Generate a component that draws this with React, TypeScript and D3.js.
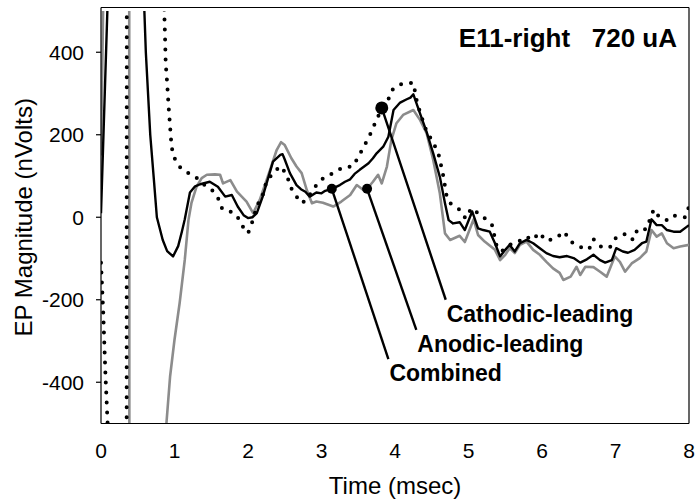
import React from "react";
import * as d3 from "d3";

const W = 696;
const H = 503;

const xTicks = [0, 1, 2, 3, 4, 5, 6, 7, 8];
const yTicks = [-400, -200, 0, 200, 400];
const xDomain: [number, number] = [0, 8];
const yDomain: [number, number] = [-500, 500];

const title = "E11-right   720 uA";
const xTitle = "Time (msec)";
const yTitle = "EP Magnitude (nVolts)";

// Combined (black solid)
const combined: [number, number][] = [
  [0, 10], [0.09, 520], [0.2, 2000], [0.5, 2000], [0.56, 700], [0.59, 500], [0.61, 400], [0.67, 200],
  [0.72, 90], [0.76, 0], [0.84, -55], [0.9, -82], [0.98, -95], [1.05, -70], [1.1, -35], [1.14, -5],
  [1.21, 60], [1.28, 75], [1.35, 80], [1.48, 86], [1.59, 74], [1.69, 50], [1.78, 54], [1.86, 26],
  [1.94, 5], [2.0, -2], [2.06, 0], [2.12, 10], [2.2, 50], [2.34, 135], [2.44, 151], [2.47, 153],
  [2.5, 140], [2.57, 107], [2.66, 78], [2.72, 68], [2.78, 62], [2.84, 50], [2.93, 60], [3.0, 58],
  [3.05, 64], [3.14, 69], [3.25, 78], [3.32, 86], [3.39, 92], [3.45, 105], [3.52, 115], [3.64, 131],
  [3.7, 143], [3.75, 155], [3.84, 171], [3.91, 195], [3.98, 260], [4.07, 278], [4.16, 286], [4.21, 290],
  [4.25, 298], [4.34, 252], [4.43, 207], [4.52, 155], [4.61, 98], [4.68, 34], [4.73, -7], [4.79, -15],
  [4.88, -12], [4.95, -31], [5.05, 14], [5.13, -27], [5.2, -31], [5.29, -35], [5.36, -63], [5.43, -95],
  [5.5, -79], [5.56, -67], [5.63, -83], [5.7, -63], [5.79, -55], [5.88, -63], [5.97, -75], [6.06, -87],
  [6.15, -94], [6.24, -97], [6.34, -94], [6.43, -99], [6.52, -110], [6.61, -102], [6.7, -91], [6.79, -104],
  [6.86, -110], [6.95, -104], [7.01, -75], [7.1, -83], [7.17, -86], [7.26, -79], [7.36, -63], [7.42, -59],
  [7.49, -5], [7.56, -19], [7.63, -19], [7.7, -31], [7.79, -35], [7.88, -35], [8.0, -19],
];

// Anodic-leading (gray solid)
const anodic: [number, number][] = [
  [0, 150], [0.03, 520], [0.08, 3000], [0.38, 3000], [0.39, -3000], [0.85, -3000], [0.89, -500],
  [0.94, -386], [1.0, -297], [1.07, -208], [1.14, -103], [1.19, -7], [1.23, 34], [1.3, 74], [1.37, 95],
  [1.44, 103], [1.55, 104], [1.62, 103], [1.66, 82], [1.76, 90], [1.85, 62], [1.98, 38], [2.07, 10],
  [2.16, 42], [2.3, 115], [2.39, 163], [2.45, 182], [2.5, 175], [2.59, 143], [2.66, 123], [2.73, 107],
  [2.8, 66], [2.87, 34], [2.93, 38], [3.02, 35], [3.16, 26], [3.27, 38], [3.39, 54], [3.48, 78],
  [3.57, 66], [3.62, 69], [3.7, 86], [3.77, 103], [3.82, 82], [3.89, 123], [3.95, 187], [4.02, 228],
  [4.11, 248], [4.25, 260], [4.34, 236], [4.43, 204], [4.52, 139], [4.61, 58], [4.68, -39], [4.75, -55],
  [4.88, -45], [4.95, -60], [5.07, -5], [5.13, -43], [5.22, -59], [5.36, -79], [5.43, -104], [5.5, -91],
  [5.56, -75], [5.63, -87], [5.7, -67], [5.79, -59], [5.88, -79], [5.97, -91], [6.06, -108], [6.15, -124],
  [6.24, -135], [6.29, -152], [6.39, -144], [6.47, -120], [6.52, -140], [6.59, -120], [6.7, -121],
  [6.79, -132], [6.88, -144], [6.99, -95], [7.06, -108], [7.13, -132], [7.22, -112], [7.33, -99],
  [7.42, -83], [7.49, -31], [7.56, -47], [7.63, -39], [7.7, -63], [7.79, -75], [7.88, -71], [8.0, -67],
];

// Cathodic-leading (black dotted)
const cathodic: [number, number][] = [
  [0, -110], [0.03, -230], [0.06, -380], [0.09, -500], [0.15, -1200], [0.345, -3000], [0.355, 3000],
  [0.8, 3000], [0.86, 502], [0.87, 446], [0.88, 374], [0.9, 325], [0.92, 268], [0.94, 220], [0.96, 171],
  [0.99, 147], [1.05, 125], [1.17, 109], [1.29, 97], [1.41, 78], [1.52, 64], [1.6, 44], [1.65, 20],
  [1.76, 14], [1.85, 3], [1.93, -23], [2.0, -39], [2.05, -16], [2.12, 26], [2.21, 58], [2.25, 86],
  [2.34, 107], [2.44, 124], [2.53, 103], [2.57, 76], [2.64, 54], [2.74, 34], [2.83, 52], [2.93, 78],
  [3.03, 96], [3.16, 107], [3.29, 121], [3.42, 123], [3.5, 145], [3.57, 170], [3.64, 192], [3.7, 216],
  [3.76, 241], [3.84, 268], [3.91, 286], [3.97, 310], [4.05, 321], [4.16, 325], [4.25, 326], [4.3, 278],
  [4.36, 244], [4.43, 208], [4.52, 181], [4.59, 155], [4.65, 107], [4.7, 54], [4.75, 34], [4.88, 18],
  [4.96, -3], [5.04, 22], [5.23, -4], [5.32, -19], [5.35, -43], [5.38, -67], [5.45, -83], [5.56, -67],
  [5.68, -59], [5.78, -47], [5.88, -55], [5.96, -37], [6.06, -57], [6.19, -51], [6.3, -35], [6.39, -59],
  [6.5, -71], [6.64, -78], [6.7, -53], [6.8, -71], [6.92, -74], [7.01, -49], [7.14, -40], [7.24, -55],
  [7.3, -29], [7.42, -29], [7.47, -5], [7.52, 19], [7.6, -1], [7.72, -8], [7.81, 4], [7.95, 0], [8.0, 26],
];

// Annotations: label, marker point, leader end
const annoLabels = ["Cathodic-leading", "Anodic-leading", "Combined"];
const annoMarkT = [3.82, 3.62, 3.14];
const annoMarkV = [265, 69, 69];
const annoEndT = [4.69, 4.29, 3.91];
const annoEndV = [-200, -273, -344];

export default function App() {
  const left = 101;
  const right = 689;
  const top = 11;
  const bottom = 423.5;

  const x = d3.scaleLinear().domain(xDomain).range([left, right]);
  const y = d3.scaleLinear().domain(yDomain).range([bottom, top]);

  const line = d3
    .line<[number, number]>()
    .x((d) => x(d[0]))
    .y((d) => y(d[1]));

  const font = "'Liberation Sans', Arial, sans-serif";
  const markR = [6.5, 5, 5];

  return (
    <svg
      width={W}
      height={H}
      style={{ position: "absolute", left: 0, top: 0, background: "#fff" }}
      fontFamily={font}
    >
      <defs>
        <clipPath id="plot">
          <rect x={left} y={top} width={right - left} height={bottom - top} />
        </clipPath>
      </defs>
      <rect x={0} y={0} width={W} height={H} fill="#fff" />

      {/* frame */}
      <line x1={left} x2={right} y1={7.5} y2={7.5} stroke="#000" strokeWidth={1.2} />
      <line x1={right} x2={right} y1={7.5} y2={bottom} stroke="#000" strokeWidth={1.2} />

      <g clipPath="url(#plot)" fill="none" strokeLinejoin="round">
        <path d={line(anodic) || ""} stroke="#8c8c8c" strokeWidth={2.6} />
        <path d={line(combined) || ""} stroke="#000" strokeWidth={2.4} />
        <path
          d={line(cathodic) || ""}
          stroke="#000"
          strokeWidth={4}
          strokeDasharray="0 10"
          strokeLinecap="round"
        />
      </g>

      {/* axes */}
      <line x1={left} x2={left} y1={7.5} y2={bottom} stroke="#000" strokeWidth={1.2} />
      <line x1={left} x2={right} y1={bottom} y2={bottom} stroke="#000" strokeWidth={1.2} />
      {yTicks.map((t) => (
        <g key={t}>
          <line x1={left - 5} x2={left} y1={y(t)} y2={y(t)} stroke="#000" strokeWidth={1.2} />
          <text x={84} y={y(t)} dy="0.36em" textAnchor="end" fontSize={21}>
            {t}
          </text>
        </g>
      ))}
      {xTicks.map((t) => (
        <text key={t} x={x(t)} y={458} textAnchor="middle" fontSize={21}>
          {t}
        </text>
      ))}
      <text x={(left + right) / 2} y={494} textAnchor="middle" fontSize={24}>
        {xTitle}
      </text>
      <text
        transform={`translate(32,${(top + bottom) / 2}) rotate(-90)`}
        textAnchor="middle"
        fontSize={24}
      >
        {yTitle}
      </text>

      <text x={677} y={47} textAnchor="end" fontSize={26} fontWeight="bold" style={{ whiteSpace: "pre" }}>
        {title}
      </text>

      {annoLabels.map((lab, i) => (
        <g key={lab}>
          <line
            x1={x(annoMarkT[i])}
            y1={y(annoMarkV[i])}
            x2={x(annoEndT[i])}
            y2={y(annoEndV[i])}
            stroke="#000"
            strokeWidth={2.4}
          />
          <circle cx={x(annoMarkT[i])} cy={y(annoMarkV[i])} r={markR[i]} fill="#000" />
          <text x={x(annoEndT[i]) + 1} y={y(annoEndV[i]) + 22} fontSize={23} fontWeight="bold">
            {lab}
          </text>
        </g>
      ))}
    </svg>
  );
}
